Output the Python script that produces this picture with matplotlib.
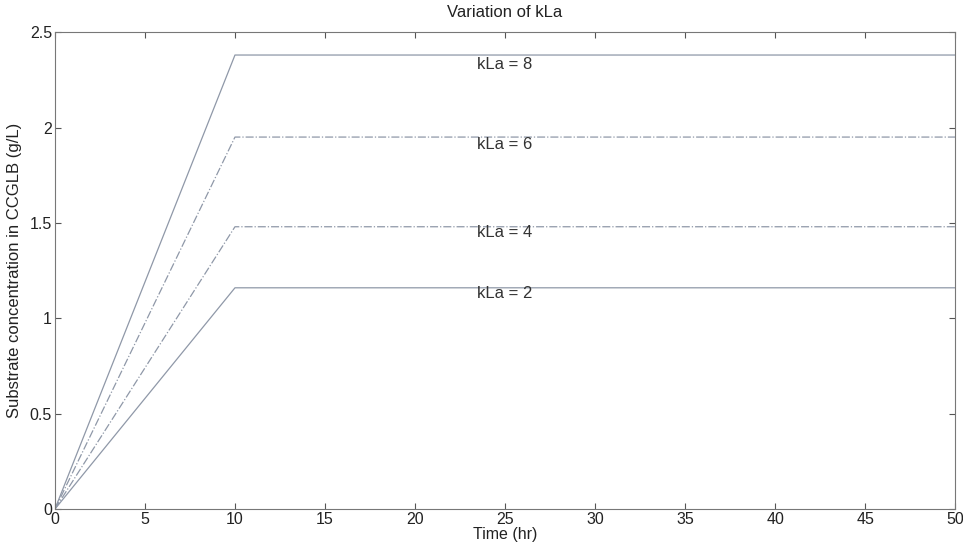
import matplotlib
matplotlib.use("Agg")
import matplotlib.pyplot as plt

plt.rcParams['font.family'] = ['Liberation Sans', 'DejaVu Sans']

time_hr = [0, 10, 50]
kla_values = [8, 6, 4, 2]
peaks = [2.38, 1.95, 1.48, 1.16]
styles = ['-', '-.', '-.', '-']
label_x = [25, 25, 25, 25]
label_y = [2.33, 1.91, 1.45, 1.13]

fig = plt.figure(figsize=(9.63, 5.54), dpi=100)
ax = fig.add_axes([0.057, 0.081, 0.935, 0.861])

for k, p, ls in zip(kla_values, peaks, styles):
    ax.plot(time_hr, [0, p, p], color='#8f98a8', lw=0.9, linestyle=ls)

for k, x, y in zip(kla_values, label_x, label_y):
    ax.text(x, y, f"kLa = {k}", ha='center', va='center', fontsize=12, color='#333333')

ax.set_xlim(0, 50)
ax.set_ylim(0, 2.5)
ax.set_xticks(range(0, 51, 5))
ax.set_yticks([0, 0.5, 1, 1.5, 2, 2.5])
ax.set_yticklabels(['0', '0.5', '1', '1.5', '2', '2.5'])
ax.tick_params(direction='in', length=4, top=True, right=True, labelsize=11.5,
               color='#555555', labelcolor='#222222', pad=2)
for s in ax.spines.values():
    s.set_color('#777777')
    s.set_linewidth(0.8)

ax.set_title("Variation of kLa", fontsize=12, color='#222222', pad=11)
ax.set_xlabel("Time (hr)", fontsize=11.5, color='#222222', labelpad=0)
ax.set_ylabel("Substrate concentration in CCGLB (g/L)", fontsize=12, color='#222222', labelpad=6)

fig.savefig("out.png", dpi=100)
